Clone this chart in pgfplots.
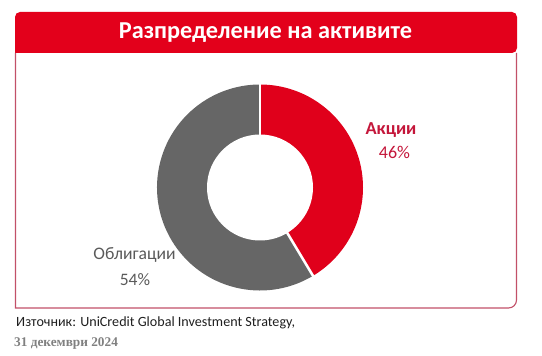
\documentclass[border=0pt]{standalone}
\usepackage{pgfplots}
\pgfplotsset{compat=1.18}
\usepackage{pgfplotstable}
\usepackage{fontspec}
\setmainfont{Carlito}
\newfontfamily\serifb{Liberation Serif}
\definecolor{hdrred}{HTML}{E3001B}
\definecolor{ucred}{HTML}{E0001B}
\definecolor{ucgray}{HTML}{666666}
\definecolor{boxcol}{HTML}{C25068}
\definecolor{lblred}{HTML}{C4163A}
\definecolor{lblgray}{HTML}{5A5A5A}
\definecolor{srcgray}{HTML}{808080}
% drawn share of each slice (degrees = 3.6 * share), as it appears in the picture
\pgfplotstableread{
label share
Akcii 41.4
Obligacii 58.6
}\pietable
\begin{document}
\begin{tikzpicture}
\useasboundingbox (0,0) rectangle (542pt,356pt);
\pgfplotstablegetelem{0}{share}\of\pietable
\pgfmathsetmacro\angA{90-3.6*\pgfplotsretval}
\begin{axis}[x=1pt,y=1pt,xmin=0,xmax=542,ymin=0,ymax=356,
  at={(0pt,0pt)},anchor=south west,hide axis,clip=false]
% header
\fill[hdrred] (axis cs:15,303) [rounded corners=5pt]-- (axis cs:15,344) -- (axis cs:517,344) -- (axis cs:517,303) [sharp corners]-- cycle;
\node[text=white,font=\fontsize{24.3}{26}\selectfont\bfseries] at (axis cs:265.5,323.5) {Разпределение на активите};
% box
\draw[boxcol,line width=1.1pt] (axis cs:15.5,303) -- (axis cs:15.5,48) -- (axis cs:508.5,48) arc[start angle=-90,end angle=0,radius=8] -- (axis cs:516.5,303);
% donut
\fill[ucred] (axis cs:260,168.5) -- ++(90:103) arc[start angle=90,end angle=\angA,radius=103] -- cycle;
\fill[ucgray] (axis cs:260,168.5) -- ++(\angA:103) arc[start angle=\angA,end angle=-270,radius=103] -- cycle;
\draw[white,line width=2.5pt] (axis cs:260,168.5) -- ++(90:106);
\draw[white,line width=2.5pt] (axis cs:260,168.5) -- ++(\angA:106);
\fill[white] (axis cs:260,168.5) circle[radius=53];
% labels
\node[text=lblred,font=\fontsize{18.3}{20}\selectfont\bfseries] at (axis cs:391,226) {Акции};
\node[text=lblred,font=\fontsize{18}{20}\selectfont] at (axis cs:394.5,203.5) {46\%};
\node[text=lblgray,font=\fontsize{17.6}{20}\selectfont] at (axis cs:134.5,101) {Облигации};
\node[text=lblgray,font=\fontsize{17.5}{20}\selectfont] at (axis cs:135,76) {54\%};
% source
\node[anchor=base west,inner sep=0pt,text=black!88,font=\fontsize{14.1}{16}\selectfont] at (axis cs:16,29.5) {Източник: UniCredit Global Investment Strategy,};
\node[anchor=base west,inner sep=0pt,text=srcgray,font=\serifb\bfseries\fontsize{13.3}{15}\selectfont] at (axis cs:14,9) {31 декември 2024};
\end{axis}
\end{tikzpicture}
\end{document}
